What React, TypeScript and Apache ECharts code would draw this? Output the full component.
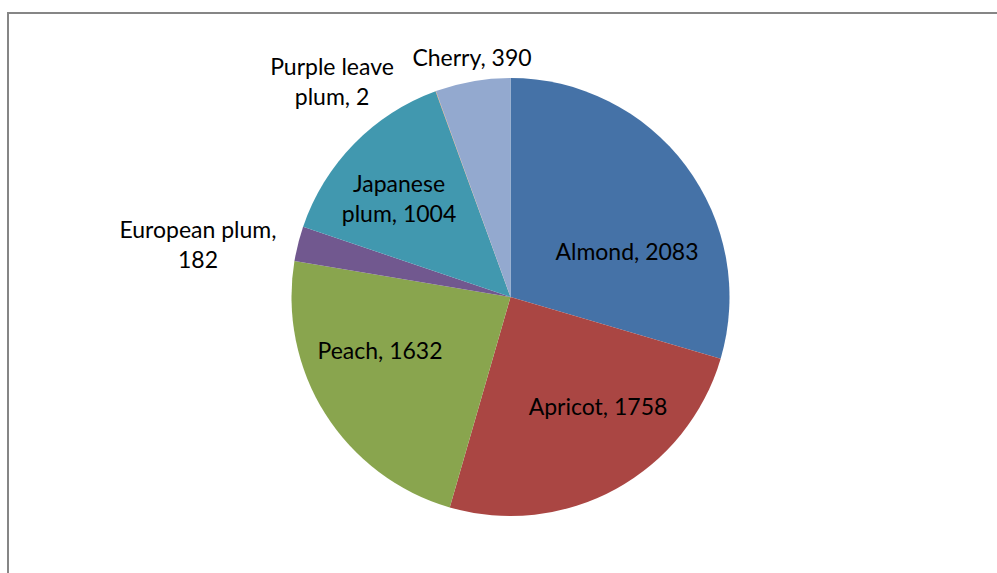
import React, { useEffect, useRef } from "react";
import * as echarts from "echarts";

const categories = ["Almond", "Apricot", "Peach", "European plum", "Japanese plum", "Purple leave plum", "Cherry"];
const values = [2083, 1758, 1632, 182, 1004, 2, 390];
const labelTexts = [
  "Almond, 2083",
  "Apricot, 1758",
  "Peach, 1632",
  "European plum,\n182",
  "Japanese\nplum, 1004",
  "Purple leave\nplum, 2",
  "Cherry, 390",
];
const colors = ["#4572A7", "#AA4643", "#89A54E", "#71588F", "#4198AF", "#DB843D", "#93A9CF"];
// label anchor positions (layout only)
const labelPos = [
  [627, 251],
  [598, 406],
  [380, 350],
  [198, 244],
  [399, 198],
  [332, 81],
  [472, 57],
];

export default function App() {
  const ref = useRef<HTMLDivElement>(null);
  useEffect(() => {
    const chart = echarts.init(ref.current!, null, { renderer: "svg" });
    chart.setOption({
      animation: false,
      backgroundColor: "#ffffff",
      graphic: [
        {
          type: "rect",
          shape: { x: 8, y: 13, width: 1100, height: 700 },
          style: { fill: "none", stroke: "#868686", lineWidth: 2 },
          silent: true,
        },
      ],
      series: [
        {
          type: "pie",
          center: [510.5, 297],
          radius: [0, 219],
          startAngle: 90,
          clockwise: true,
          avoidLabelOverlap: false,
          minAngle: 0,
          itemStyle: { borderWidth: 0 },
          label: {
            show: true,
            position: "inside",
            color: "#000",
            fontFamily: "Lato, 'Open Sans', sans-serif",
            fontSize: 23,
            lineHeight: 30,
            align: "center",
            verticalAlign: "middle",
            formatter: (p: any) => labelTexts[p.dataIndex],
          },
          labelLine: { show: false },
          labelLayout: (params: any) => ({
            x: labelPos[params.dataIndex][0],
            y: labelPos[params.dataIndex][1],
            align: "center",
            verticalAlign: "middle",
          }),
          emphasis: { disabled: true },
          data: categories.map((c, i) => ({
            name: c,
            value: values[i],
            itemStyle: { color: colors[i] },
          })),
        },
      ],
    });
    return () => chart.dispose();
  }, []);
  return (
    <div
      ref={ref}
      style={{ position: "fixed", left: 0, top: 0, width: 997, height: 573 }}
    />
  );
}
